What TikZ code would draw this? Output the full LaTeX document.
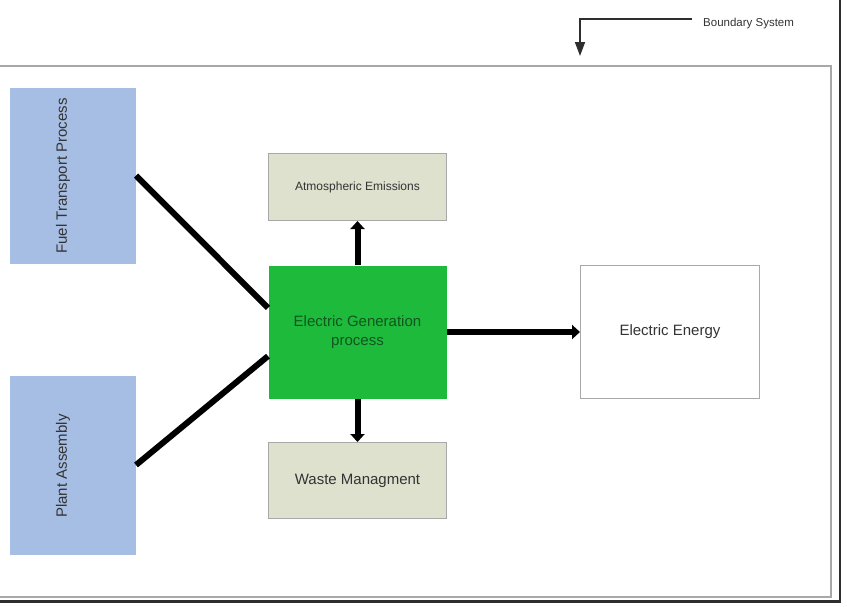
\documentclass[tikz,border=0pt]{standalone}
\usepackage{fontspec}
\setmainfont{Liberation Sans}
\usetikzlibrary{arrows.meta,calc}
\definecolor{blueF}{HTML}{A7BEE4}
\definecolor{tanF}{HTML}{DDE1CE}
\definecolor{greenF}{HTML}{1DBA3C}
\definecolor{greenT}{HTML}{12561F}
\definecolor{edgeG}{HTML}{A8A8A8}
\definecolor{txt}{HTML}{333333}
\definecolor{frameK}{HTML}{2E2E2E}
\begin{document}
\begin{tikzpicture}[x=1pt,y=-1pt,
  box/.style={draw=edgeG,line width=1pt,inner sep=2pt,anchor=north west,align=center,text=txt,
    font=\fontsize{15}{19}\selectfont},
  bluebox/.style={box,fill=blueF,draw=none},
  tanbox/.style={box,fill=tanF},
  genbox/.style={box,draw=none,fill=greenF,text=greenT},
  flow/.style={line width=6pt,draw=black},
  flowarrow/.style={flow,-{Triangle[width=14pt,length=8pt]}},
  thinarrow/.style={line width=1.6pt,draw=frameK,-{Triangle[width=10pt,length=14pt]}},
  sidelbl/.style={rotate=90,text=txt,font=\fontsize{15}{19}\selectfont}]
\clip (0,0) rectangle (847,606);
\fill[white] (0,0) rectangle (847,606);
% boundary frame
\draw[edgeG,line width=1.2pt] (-5,66) rectangle (831,597);
\draw[frameK,line width=2.6pt] (840,-2) -- (840,601.5) -- (-2,601.5);
% boundary system label
\node[anchor=west,inner sep=0pt,text=txt,font=\fontsize{11.5}{13}\selectfont] (bs) at (703,24) {Boundary System};
\coordinate (bsstart) at (692,19);
\coordinate (bstip) at (580,56);
\draw[thinarrow] (bsstart) -| (bstip);
% boxes
\node[bluebox,minimum width=126pt,minimum height=176pt] (fuel) at (9,87) {};
\node[sidelbl] (fuellbl) at (63,176) {Fuel Transport Process};
\node[bluebox,minimum width=126pt,minimum height=179pt] (plant) at (9,375) {};
\node[sidelbl] (plantlbl) at (63,466) {Plant Assembly};
\node[tanbox,minimum width=178pt,minimum height=67pt,font=\fontsize{12}{14}\selectfont] (atm) at (268,153) {Atmospheric Emissions};
\node[genbox,minimum width=178pt,minimum height=133pt] (gen) at (268,265) {Electric Generation\\process};
\node[tanbox,minimum width=178pt,minimum height=76pt] (waste) at (268,442) {Waste Managment};
\node[box,fill=white,minimum width=179pt,minimum height=133pt] (energy) at (580,265) {Electric Energy};
% connectors
\draw[flow] (fuel.east) -- ($(gen.north west)!0.32!(gen.south west)$);
\draw[flow] (plant.east) -- ($(gen.north west)!0.68!(gen.south west)$);
\draw[flowarrow] (gen.north) -- (atm.south);
\draw[flowarrow] (gen.south) -- (waste.north);
\draw[flowarrow] (gen.east) -- (energy.west);
\end{tikzpicture}
\end{document}
